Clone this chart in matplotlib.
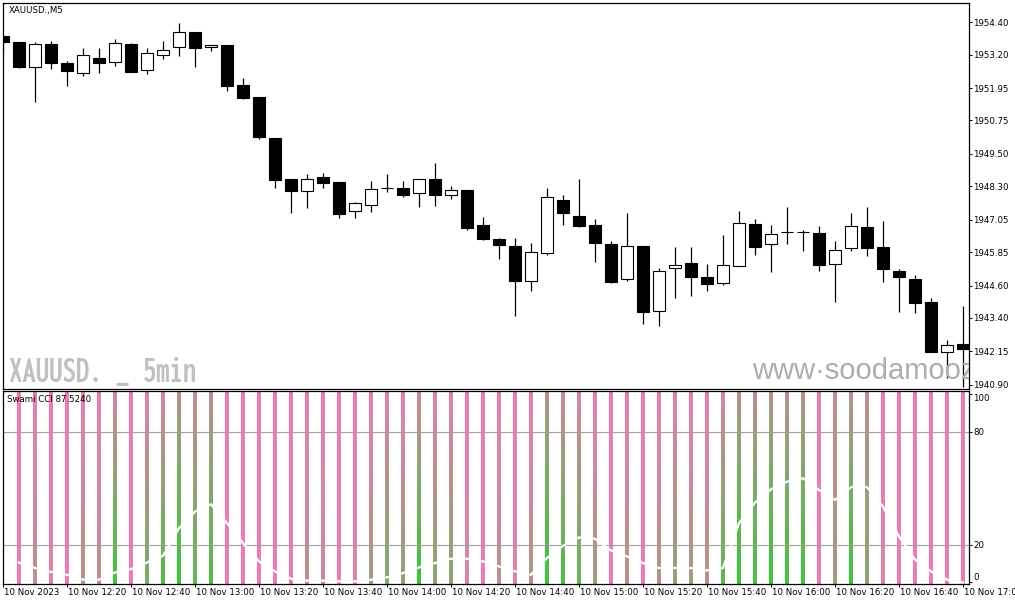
import numpy as np
import matplotlib
matplotlib.use("Agg")
import matplotlib.pyplot as plt
import matplotlib.transforms as mtransforms
from matplotlib import font_manager as fm

# ---- data (5 min candles, 12:00 .. 17:00) ----
opens = [1953.89, 1953.66, 1952.75, 1953.59, 1952.89, 1952.50, 1953.06, 1952.91, 1953.59, 1952.64,
         1953.17, 1953.47, 1954.03, 1953.47, 1953.56, 1952.07, 1951.62, 1950.08, 1948.56, 1948.13,
         1948.63, 1948.46, 1947.39, 1947.59, 1948.22, 1948.22, 1948.04, 1948.56, 1947.96, 1948.15,
         1946.84, 1946.32, 1946.06, 1944.78, 1945.80, 1947.79, 1947.19, 1946.86, 1946.15, 1944.83,
         1946.06, 1943.67, 1945.25, 1945.44, 1944.92, 1944.71, 1945.34, 1946.88, 1946.14, 1946.60,
         1946.60, 1946.55, 1945.39, 1945.99, 1946.77, 1946.03, 1945.14, 1944.83, 1943.98, 1942.12,
         1942.42]
highs = [1953.89, 1953.68, 1953.68, 1953.70, 1952.96, 1953.45, 1953.45, 1953.78, 1953.62, 1953.45,
         1953.70, 1954.39, 1954.03, 1953.54, 1953.56, 1952.34, 1951.62, 1950.08, 1948.56, 1948.75,
         1948.80, 1948.46, 1947.72, 1948.49, 1948.77, 1948.49, 1948.56, 1949.16, 1948.31, 1948.15,
         1947.15, 1946.38, 1946.36, 1946.19, 1948.22, 1947.97, 1948.57, 1947.08, 1946.26, 1947.31,
         1946.06, 1945.24, 1946.05, 1946.04, 1945.40, 1946.48, 1947.38, 1947.08, 1946.84, 1947.53,
         1946.67, 1946.82, 1946.27, 1947.30, 1947.53, 1947.00, 1945.22, 1944.98, 1944.13, 1942.56,
         1943.85]
lows = [1953.29, 1952.69, 1951.45, 1952.66, 1952.04, 1952.40, 1952.50, 1952.78, 1952.56, 1952.48,
        1953.05, 1953.16, 1952.75, 1953.34, 1951.85, 1951.55, 1950.06, 1948.24, 1947.31, 1947.50,
        1948.24, 1947.13, 1947.13, 1947.35, 1948.09, 1947.91, 1947.54, 1947.57, 1947.83, 1946.67,
        1946.30, 1945.60, 1943.48, 1944.41, 1945.74, 1946.86, 1946.79, 1945.49, 1944.71, 1944.78,
        1943.16, 1943.11, 1944.13, 1944.22, 1944.41, 1944.62, 1945.34, 1945.74, 1945.11, 1946.16,
        1945.90, 1945.15, 1944.00, 1945.90, 1945.71, 1944.75, 1943.63, 1943.59, 1942.14, 1941.15,
        1940.84]
closes = [1953.67, 1952.75, 1953.59, 1952.90, 1952.60, 1953.18, 1952.90, 1953.62, 1952.56, 1953.25,
          1953.37, 1954.03, 1953.45, 1953.54, 1952.04, 1951.59, 1950.14, 1948.53, 1948.13, 1948.56,
          1948.43, 1947.28, 1947.67, 1948.18, 1948.24, 1947.98, 1948.56, 1947.98, 1948.15, 1946.74,
          1946.35, 1946.12, 1944.78, 1945.84, 1947.89, 1947.31, 1946.82, 1946.20, 1944.75, 1946.06,
          1943.63, 1945.13, 1945.36, 1944.91, 1944.67, 1945.36, 1946.92, 1946.05, 1946.51, 1946.58,
          1946.58, 1945.37, 1945.92, 1946.81, 1946.01, 1945.23, 1944.91, 1943.96, 1942.14, 1942.38,
          1942.23]

# swami line, bars 1..60
swami = [10.6, 7.7, 5.6, 4.1, 1.5, 1.5, 5.3, 7.1, 10.6, 14.2,
         28.8, 37.6, 41.5, 31.5, 20.9, 11.2, 5.9, 2.0, 1.0, 1.0,
         0.6, 0.6, 1.5, 2.7, 5.0, 8.0, 10.3, 12.6, 12.6, 11.2,
         8.5, 5.9, 4.1, 13.0, 19.5, 23.9, 23.2, 17.0, 13.8, 10.3,
         7.7, 7.7, 7.7, 6.4, 7.7, 31.5, 42.4, 49.5, 53.5, 55.3,
         49.1, 43.8, 50.6, 50.6, 40.3, 24.4, 12.1, 5.9, 1.5, 0.0]
# how green each column is at its top and bottom (0 = pink, 1 = green)
green_top = [0, 0.05, 0, 0, 0.05, 0.05, 0.15, 0, 0.1, 0.15,
             0.35, 0.25, 0.3, 0, 0, 0, 0, 0, 0.05, 0,
             0, 0, 0.05, 0.1, 0.05, 0.2, 0.1, 0.1, 0, 0,
             0.05, 0, 0.05, 0.35, 0.2, 0.15, 0.05, 0, 0.05, 0,
             0.05, 0.1, 0.05, 0.05, 0.15, 0.35, 0.3, 0.35, 0.3, 0.35,
             0.05, 0.25, 0.3, 0.3, 0, 0, 0, 0, 0, 0]
green_bot = [0, 0.3, 0.1, 0, 0.35, 0.3, 0.95, 0, 0.65, 0.85,
             1.0, 0.75, 0.85, 0, 0, 0, 0, 0.05, 0.3, 0.25,
             0, 0.1, 0.4, 0.6, 0.5, 1.0, 0.55, 0.55, 0.15, 0,
             0.3, 0.1, 0.35, 1.0, 0.9, 0.75, 0.4, 0, 0.35, 0,
             0.35, 0.5, 0.4, 0.35, 0.8, 1.0, 0.9, 1.0, 0.95, 0.95,
             0.0, 0.4, 1.0, 0.55, 0.1, 0, 0, 0, 0, 0]

price_ticks = [1954.40, 1953.20, 1951.95, 1950.75, 1949.50, 1948.30,
               1947.05, 1945.85, 1944.60, 1943.40, 1942.15, 1940.90]
time_labels = ["10 Nov 2023", "10 Nov 12:20", "10 Nov 12:40", "10 Nov 13:00", "10 Nov 13:20",
               "10 Nov 13:40", "10 Nov 14:00", "10 Nov 14:20", "10 Nov 14:40", "10 Nov 15:00",
               "10 Nov 15:20", "10 Nov 15:40", "10 Nov 16:00", "10 Nov 16:20", "10 Nov 16:40",
               "10 Nov 17:00"]

pink = np.array([240, 122, 182]) / 255
green = np.array([55, 200, 55]) / 255

# a narrow bold face for the big watermark, if one is installed
wm_font = None
for key in ["ExtraCondensedBold", "ExtraCondensed-Bold", "CondensedBold", "Condensed-Bold",
            "Narrow-Bold", "NarrowBold"]:
    hits = [f.fname for f in fm.fontManager.ttflist if key in f.fname.replace(" ", "")]
    if hits:
        wm_font = fm.FontProperties(fname=sorted(hits)[0], size=27.5)
        break
if wm_font is None:
    wm_font = fm.FontProperties(family="DejaVu Sans", weight="bold", size=15)

fs = 6.2
fig = plt.figure(figsize=(10.15, 6.05), dpi=100)
W, H = 1015, 605
ax = fig.add_axes([3 / W, 1 - 389 / H, 966 / W, 386 / H])
ax2 = fig.add_axes([3 / W, 1 - 584 / H, 966 / W, 193 / H])

n = len(opens)
x = np.arange(n)

# candles
ax.vlines(x, lows, highs, color="black", lw=0.9, zorder=2)
for i in range(n):
    o, c = opens[i], closes[i]
    bear = c < o
    ax.bar(i, max(abs(c - o), 0.001), bottom=min(o, c), width=0.69,
           color="black" if bear else "white", edgecolor="black", lw=0.8, zorder=3)

ax.set_xlim(0, 60.375)
ax.set_ylim(1940.75, 1955.12)
ax.set_xticks([])
ax.yaxis.tick_right()
ax.set_yticks(price_ticks)
ax.set_yticklabels(["%.2f" % v for v in price_ticks])
ax.tick_params(axis="y", length=2.2, width=0.7, pad=0.8, labelsize=fs)
for s in ax.spines.values():
    s.set_linewidth(0.9)

ax.text(6 / 966, 1 - 7 / 386, "XAUUSD.,M5", transform=ax.transAxes, fontsize=fs,
        va="center", ha="left")
ax.text(6 / 966, 7 / 386, "XAUUSD. _ 5min", transform=ax.transAxes,
        fontproperties=wm_font, color="#c0c0c0", va="baseline", ha="left")
ax.text(749 / 966, 10 / 386, "www·soodamooz", transform=ax.transAxes, fontsize=21,
        family=["Liberation Sans", "DejaVu Sans"], color="#adadad",
        va="baseline", ha="left", clip_on=True)

# swami panel: each column is a stack of small cells shading pink -> green
ylo, yhi = -0.8, 101.6
nseg = 48
edges = np.linspace(ylo, yhi, nseg + 1)
for k in range(len(swami)):
    xi = k + 1
    m = np.linspace(green_bot[k], green_top[k], nseg)[:, None]
    cols = pink[None, :] * (1 - m) + green[None, :] * m
    ax2.bar(np.full(nseg, xi), np.diff(edges), bottom=edges[:-1], width=0.27,
            color=cols, lw=0, antialiased=False, zorder=1)
ax2.axhline(80, color="#a0a0a0", lw=0.8, zorder=2)
ax2.axhline(20, color="#a0a0a0", lw=0.8, zorder=2)
ax2.plot(np.arange(1, len(swami) + 1), swami, color="white", lw=1.6, zorder=3)

ax2.set_xlim(0, 60.375)
ax2.set_ylim(ylo, yhi)
ax2.yaxis.tick_right()
ax2.set_yticks([0, 20, 80, 100])
ax2.set_yticklabels(["0", "20", "80", "100"])
ax2.tick_params(axis="y", length=2.2, width=0.7, pad=0.8, labelsize=fs)
ylab = ax2.get_yticklabels()
ylab[0].set_va("bottom")
ylab[3].set_va("top")
ax2.set_xticks(np.arange(0, 61, 4))
ax2.set_xticklabels(time_labels)
ax2.tick_params(axis="x", length=2.2, width=0.7, pad=1.0, labelsize=fs)
off = mtransforms.ScaledTranslation(1 / 100, 0, fig.dpi_scale_trans)
for lab in ax2.get_xticklabels():
    lab.set_ha("left")
    lab.set_transform(lab.get_transform() + off)
for s in ax2.spines.values():
    s.set_linewidth(0.9)
ax2.text(4 / 966, 1 - 9 / 193, "Swami CCI 87.5240", transform=ax2.transAxes, fontsize=fs,
         va="center", ha="left", zorder=5)

fig.savefig("out.png", dpi=100)
